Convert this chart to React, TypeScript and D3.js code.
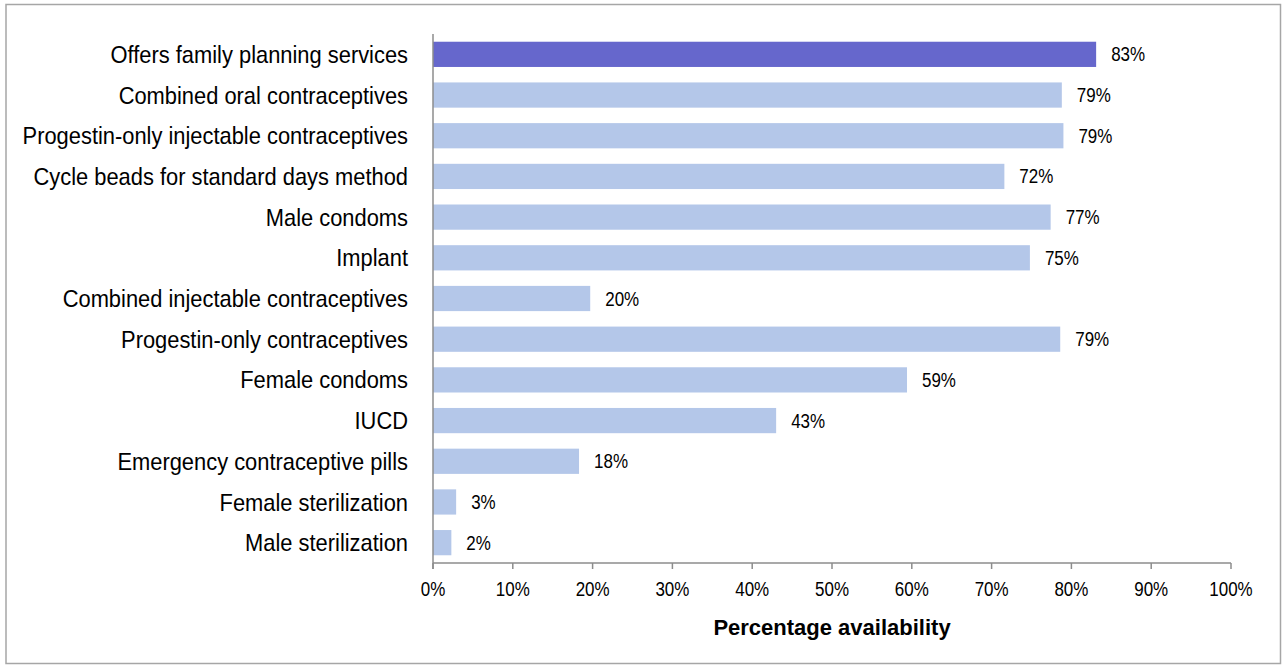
import React from "react";
import * as d3 from "d3";

const categories = [
  "Offers family planning services",
  "Combined oral contraceptives",
  "Progestin-only injectable contraceptives",
  "Cycle beads for standard days method",
  "Male condoms",
  "Implant",
  "Combined injectable contraceptives",
  "Progestin-only contraceptives",
  "Female condoms",
  "IUCD",
  "Emergency contraceptive pills",
  "Female sterilization",
  "Male sterilization",
];
const values = [83.1, 78.8, 79.0, 71.6, 77.4, 74.8, 19.7, 78.6, 59.4, 43.0, 18.3, 2.9, 2.3];
const highlighted = ["Offers family planning services"];
const xTicks = [0, 10, 20, 30, 40, 50, 60, 70, 80, 90, 100];
const axisTitle = "Percentage availability";

const W = 1288;
const H = 668;
const FONT = "'Liberation Sans', Arial, sans-serif";

export default function App() {
  const x = d3.scaleLinear().domain([0, 100]).range([433, 1231]);
  const y = d3
    .scaleBand<string>()
    .domain(categories)
    .range([34, 563])
    .paddingInner(0.38)
    .paddingOuter(0.19);
  const bw = y.bandwidth();
  const fmt = (v: number) => `${Math.round(v)}%`;
  const axisColor = "#8c8c8c";

  return (
    <svg
      width={W}
      height={H}
      style={{ position: "absolute", left: 0, top: 0, background: "#fff" }}
      fontFamily={FONT}
    >
      <rect x={6} y={4.5} width={1274.5} height={659} fill="#fff" stroke="#a6a6a6" strokeWidth={1.5} />
      {categories.map((c, i) => {
        const yy = y(c)!;
        const v = values[i];
        return (
          <g key={c}>
            <rect
              x={x(0)}
              y={yy}
              width={x(v) - x(0)}
              height={bw}
              fill={highlighted.includes(c) ? "#6667cc" : "#b4c7e9"}
            />
            <text
              transform={`translate(408,${yy + bw / 2 + 8.6}) scale(0.912,1)`}
              textAnchor="end"
              fontSize={24}
              fill="#000"
            >
              {c}
            </text>
            <text
              transform={`translate(${x(v) + 15},${yy + bw / 2 + 7}) scale(0.87,1)`}
              textAnchor="start"
              fontSize={19.5}
              fill="#000"
            >
              {fmt(v)}
            </text>
          </g>
        );
      })}
      <line x1={x(0)} x2={x(0)} y1={34} y2={569} stroke={axisColor} strokeWidth={1.5} />
      <line x1={x(0)} x2={x(100)} y1={563} y2={563} stroke={axisColor} strokeWidth={1.5} />
      {xTicks.map((t) => (
        <g key={t}>
          <line x1={x(t)} x2={x(t)} y1={563} y2={569} stroke={axisColor} strokeWidth={1.5} />
          <text
            transform={`translate(${x(t)},596) scale(0.87,1)`}
            textAnchor="middle"
            fontSize={19.5}
            fill="#000"
          >
            {`${t}%`}
          </text>
        </g>
      ))}
      <text
        transform={`translate(${(x(0) + x(100)) / 2},635) scale(1,1)`}
        textAnchor="middle"
        fontSize={22}
        fontWeight="bold"
        fill="#000"
      >
        {axisTitle}
      </text>
    </svg>
  );
}
